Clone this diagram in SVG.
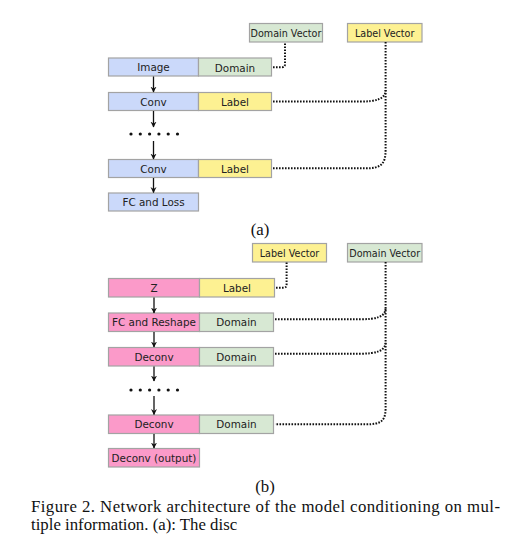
<svg xmlns="http://www.w3.org/2000/svg" width="519" height="553" viewBox="0 0 519 553">
<defs>
<style>
.box{stroke:#a3a3a3;stroke-width:1.2}
.blue{fill:#cbd9fa}
.green{fill:#d7e8d3}
.yellow{fill:#fdf192}
.pink{fill:#fb9ac9}
.t{font-family:"DejaVu Sans",Verdana,sans-serif;font-size:10.4px;fill:#222;text-anchor:middle;dominant-baseline:central}
.v{font-size:9.6px}
.dot{fill:none;stroke:#111;stroke-width:2;stroke-dasharray:1.6 1.4}
.arr{stroke:#111;stroke-width:1.3;fill:none;marker-end:url(#ah)}
.cap{font-family:"Liberation Serif","Times New Roman",serif;font-size:16.8px;fill:#111}
</style>
<marker id="ah" viewBox="0 0 10 10" refX="9" refY="5" markerWidth="6" markerHeight="7" orient="auto" markerUnits="userSpaceOnUse">
<path d="M0,0 L10,5 L0,10 L3,5 Z" fill="#111"/>
</marker>
</defs>
<rect width="519" height="553" fill="#fff"/>

<!-- (a) -->
<g id="a-domain-vector"><rect class="box green" x="249.5" y="23.5" width="73" height="18.5"/><text class="t v" x="286" y="33">Domain Vector</text></g>
<g id="a-label-vector"><rect class="box yellow" x="347.5" y="23.5" width="74.5" height="18.5"/><text class="t v" x="384.7" y="33">Label Vector</text></g>
<g id="a-image"><rect class="box blue" x="108.5" y="58" width="90" height="18"/><text class="t" x="153.5" y="67">Image</text></g>
<g id="a-domain"><rect class="box green" x="198.5" y="58" width="73" height="18"/><text class="t" x="235" y="67.5">Domain</text></g>
<g id="a-conv1"><rect class="box blue" x="108.5" y="92.5" width="90" height="18"/><text class="t" x="153.5" y="101.5">Conv</text></g>
<g id="a-label1"><rect class="box yellow" x="198.5" y="92.5" width="73" height="18"/><text class="t" x="235" y="101.5">Label</text></g>
<g id="a-dots" fill="#111"><circle cx="131" cy="134" r="1.6"/><circle cx="140.3" cy="134" r="1.6"/><circle cx="149.6" cy="134" r="1.6"/><circle cx="158.9" cy="134" r="1.6"/><circle cx="168.2" cy="134" r="1.6"/><circle cx="177.5" cy="134" r="1.6"/></g>
<g id="a-conv2"><rect class="box blue" x="108.5" y="159.5" width="90" height="18"/><text class="t" x="153.5" y="168.5">Conv</text></g>
<g id="a-label2"><rect class="box yellow" x="198.5" y="159.5" width="73" height="18"/><text class="t" x="235" y="168.5">Label</text></g>
<g id="a-fc"><rect class="box blue" x="108.5" y="193" width="90" height="18"/><text class="t" x="153.5" y="202">FC and Loss</text></g>
<text class="cap" x="260" y="235" text-anchor="middle">(a)</text>

<!-- (b) -->
<g id="b-label-vector"><rect class="box yellow" x="252.5" y="243.5" width="74" height="18.5"/><text class="t v" x="289.5" y="253">Label Vector</text></g>
<g id="b-domain-vector"><rect class="box green" x="347.5" y="243.5" width="74.5" height="18.5"/><text class="t v" x="384.7" y="253">Domain Vector</text></g>
<g id="b-z"><rect class="box pink" x="108.5" y="278.5" width="91" height="18.5"/><text class="t" x="154" y="288">Z</text></g>
<g id="b-label"><rect class="box yellow" x="199.5" y="278.5" width="75" height="18.5"/><text class="t" x="237" y="288">Label</text></g>
<g id="b-fc"><rect class="box pink" x="108.5" y="313" width="91" height="18.5"/><text class="t" x="154" y="322.3">FC and Reshape</text></g>
<g id="b-domain1"><rect class="box green" x="199.5" y="313" width="74" height="18.5"/><text class="t" x="236.5" y="322.3">Domain</text></g>
<g id="b-deconv1"><rect class="box pink" x="108.5" y="347.5" width="91" height="18.5"/><text class="t" x="154" y="356.8">Deconv</text></g>
<g id="b-domain2"><rect class="box green" x="199.5" y="347.5" width="74" height="18.5"/><text class="t" x="236.5" y="356.8">Domain</text></g>
<g id="b-dots" fill="#111"><circle cx="131" cy="390" r="1.6"/><circle cx="140.3" cy="390" r="1.6"/><circle cx="149.6" cy="390" r="1.6"/><circle cx="158.9" cy="390" r="1.6"/><circle cx="168.2" cy="390" r="1.6"/><circle cx="177.5" cy="390" r="1.6"/></g>
<g id="b-deconv2"><rect class="box pink" x="108.5" y="415" width="91" height="18.5"/><text class="t" x="154" y="424.3">Deconv</text></g>
<g id="b-domain3"><rect class="box green" x="199.5" y="415" width="74" height="18.5"/><text class="t" x="236.5" y="424.3">Domain</text></g>
<g id="b-out"><rect class="box pink" x="108.5" y="448.5" width="91" height="18.5"/><text class="t" x="154" y="457.8">Deconv (output)</text></g>
<text class="cap" x="265" y="492" text-anchor="middle">(b)</text>

<g id="connectors">
<line class="arr" x1="153.5" y1="76.5" x2="153.5" y2="92"/>
<line class="arr" x1="153.5" y1="111" x2="153.5" y2="127"/>
<line class="arr" x1="153.5" y1="141" x2="153.5" y2="159"/>
<line class="arr" x1="153.5" y1="178" x2="153.5" y2="192.5"/>
<path class="dot" d="M273,67.3 H282 Q285,67.3 285,64 V42"/>
<path class="dot" d="M385.6,42 V150 C385.6,164 381,168.3 366,168.3 H273"/>
<path class="dot" d="M273,101.6 H360 C376,101.6 385.6,99 385.6,90"/>

<line class="arr" x1="154" y1="297.5" x2="154" y2="313"/>
<line class="arr" x1="154" y1="332" x2="154" y2="347"/>
<line class="arr" x1="154" y1="366.5" x2="154" y2="381"/>
<line class="arr" x1="154" y1="396" x2="154" y2="414.5"/>
<line class="arr" x1="154" y1="434" x2="154" y2="448"/>
<path class="dot" d="M276,287.7 H283.5 Q286.6,287.7 286.6,284.5 V262"/>
<path class="dot" d="M385.6,262 V408 C385.6,421 381,424.3 366,424.3 H275"/>
<path class="dot" d="M275,319.3 H360 C376,319.3 385.6,317 385.6,308"/>
<path class="dot" d="M275,353.7 H360 C376,353.7 385.6,351 385.6,342"/>
</g>

<text class="cap" x="31" y="512" textLength="469" lengthAdjust="spacing">Figure 2.  Network architecture of the model conditioning on mul-</text>
<text class="cap" x="31" y="530">tiple information. (a): The disc</text>
</svg>
